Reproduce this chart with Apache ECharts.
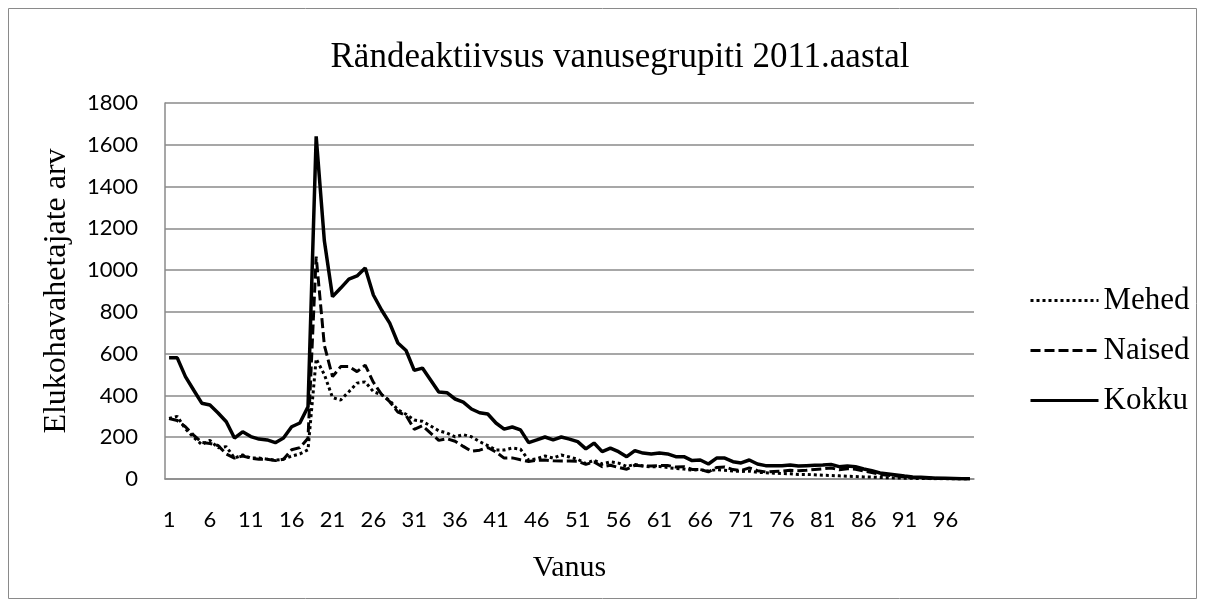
<!DOCTYPE html>
<html>
<head>
<meta charset="utf-8">
<title>Rändeaktiivsus</title>
<script src="https://cdn.jsdelivr.net/npm/echarts@6/dist/echarts.min.js"></script>
<style>
    html, body {margin: 0; padding: 0; background: #fff;}
    #main {width: 1205px; height: 608px;}
</style>
</head>
<body>
<div id="main"></div>
<script>
// vanused 1..99
var vanus = [];
for (var i = 1; i <= 99; i++) {
    vanus.push(String(i));
}

var mehed = [290, 300, 240, 200, 165, 185, 150, 155, 100, 115,
    100, 100, 95, 90, 95, 110, 120, 140, 575, 500,
    390, 378, 418, 459, 465, 418, 404, 376, 331, 310,
    282, 276, 254, 231, 220, 202, 212, 202, 179, 160,
    139, 139, 148, 143, 90, 97, 110, 100, 115, 105,
    94, 74, 90, 72, 82, 76, 60, 70, 62, 58,
    60, 55, 50, 48, 42, 45, 38, 45, 42, 38,
    36, 38, 32, 30, 28, 26, 25, 22, 22, 20,
    18, 17, 15, 13, 12, 10, 9, 7, 6, 5,
    4, 3, 2, 2, 1, 1, 0, 0, 0];

var naised = [290, 280, 250, 210, 175, 170, 160, 120, 100, 110,
    100, 95, 95, 88, 95, 140, 150, 195, 1065, 640,
    490, 538, 538, 514, 545, 463, 405, 370, 320, 305,
    238, 255, 220, 185, 193, 181, 156, 133, 138, 151,
    129, 100, 101, 92, 84, 90, 91, 87, 86, 86,
    85, 70, 82, 59, 66, 55, 47, 66, 62, 62,
    64, 65, 57, 59, 46, 46, 34, 55, 58, 45,
    41, 53, 40, 34, 36, 38, 42, 40, 42, 46,
    49, 53, 44, 49, 47, 38, 31, 22, 18, 14,
    10, 7, 6, 4, 3, 2, 2, 1, 1];

var kokku = [580, 580, 490, 426, 363, 354, 316, 274, 196, 226,
    203, 191, 187, 174, 196, 250, 268, 346, 1640, 1140,
    873, 914, 957, 972, 1010, 881, 809, 746, 651, 615,
    520, 531, 474, 416, 413, 383, 368, 335, 317, 311,
    268, 239, 249, 235, 174, 187, 201, 187, 201, 191,
    179, 144, 172, 131, 148, 131, 107, 136, 124, 120,
    124, 120, 107, 107, 88, 91, 72, 100, 100, 83,
    77, 91, 72, 64, 64, 64, 67, 62, 64, 66,
    67, 70, 59, 62, 59, 48, 40, 29, 24, 19,
    14, 10, 8, 6, 4, 3, 2, 1, 1];

var serif = '"Liberation Serif", "Times New Roman", serif';
var sans = 'Lato, "Open Sans", sans-serif';
var grey = '#8a8a8a';

var myChart = echarts.init(document.getElementById('main'));
var option = {
    animation: false,
    backgroundColor: '#fff',
    graphic: [
        {
            type: 'rect',
            shape: {x: 8.5, y: 8.5, width: 1188, height: 590},
            style: {fill: 'none', stroke: grey, lineWidth: 1}
        }
    ],
    title: {
        text: 'Rändeaktiivsus vanusegrupiti 2011.aastal',
        left: 615,
        textAlign: 'center',
        top: 35,
        textStyle: {fontFamily: serif, fontSize: 35, fontWeight: 'normal', color: '#000'}
    },
    legend: {
        orient: 'vertical',
        left: 1024,
        top: 280,
        itemWidth: 68,
        itemHeight: 14,
        itemGap: 19,
        itemStyle: {opacity: 0},
        lineStyle: {width: 3},
        textStyle: {fontFamily: serif, fontSize: 31, color: '#000'},
        data: ['Mehed', 'Naised', 'Kokku']
    },
    grid: {
        left: 165,
        right: 231,
        top: 103,
        bottom: 129
    },
    xAxis: {
        type: 'category',
        data: vanus,
        boundaryGap: true,
        name: 'Vanus',
        nameLocation: 'middle',
        nameGap: 74,
        nameTextStyle: {fontFamily: serif, fontSize: 30, color: '#000'},
        axisLine: {lineStyle: {color: grey, width: 1.5}},
        axisTick: {show: false},
        axisLabel: {
            interval: 4,
            margin: 30,
            fontFamily: sans,
            fontSize: 22,
            color: '#000'
        }
    },
    yAxis: {
        type: 'value',
        min: 0,
        max: 1800,
        interval: 200,
        name: 'Elukohavahetajate arv',
        nameLocation: 'middle',
        nameGap: 92,
        nameTextStyle: {fontFamily: serif, fontSize: 32, color: '#000'},
        axisLine: {show: true, lineStyle: {color: grey, width: 1.5}},
        axisTick: {show: false},
        axisLabel: {
            margin: 27,
            fontFamily: sans,
            fontSize: 22,
            color: '#000',
            formatter: function (v) {
                return String(v);
            }
        },
        splitLine: {lineStyle: {color: grey, width: 1.5}}
    },
    series: [
        {
            name: 'Mehed',
            type: 'line',
            data: mehed,
            symbol: 'none',
            color: '#000',
            lineStyle: {color: '#000', width: 3, type: [3, 3]}
        },
        {
            name: 'Naised',
            type: 'line',
            data: naised,
            symbol: 'none',
            color: '#000',
            lineStyle: {color: '#000', width: 3, type: [10, 4]}
        },
        {
            name: 'Kokku',
            type: 'line',
            data: kokku,
            symbol: 'none',
            color: '#000',
            lineStyle: {color: '#000', width: 3.5}
        }
    ]
};
myChart.setOption(option);
</script>
</body>
</html>
